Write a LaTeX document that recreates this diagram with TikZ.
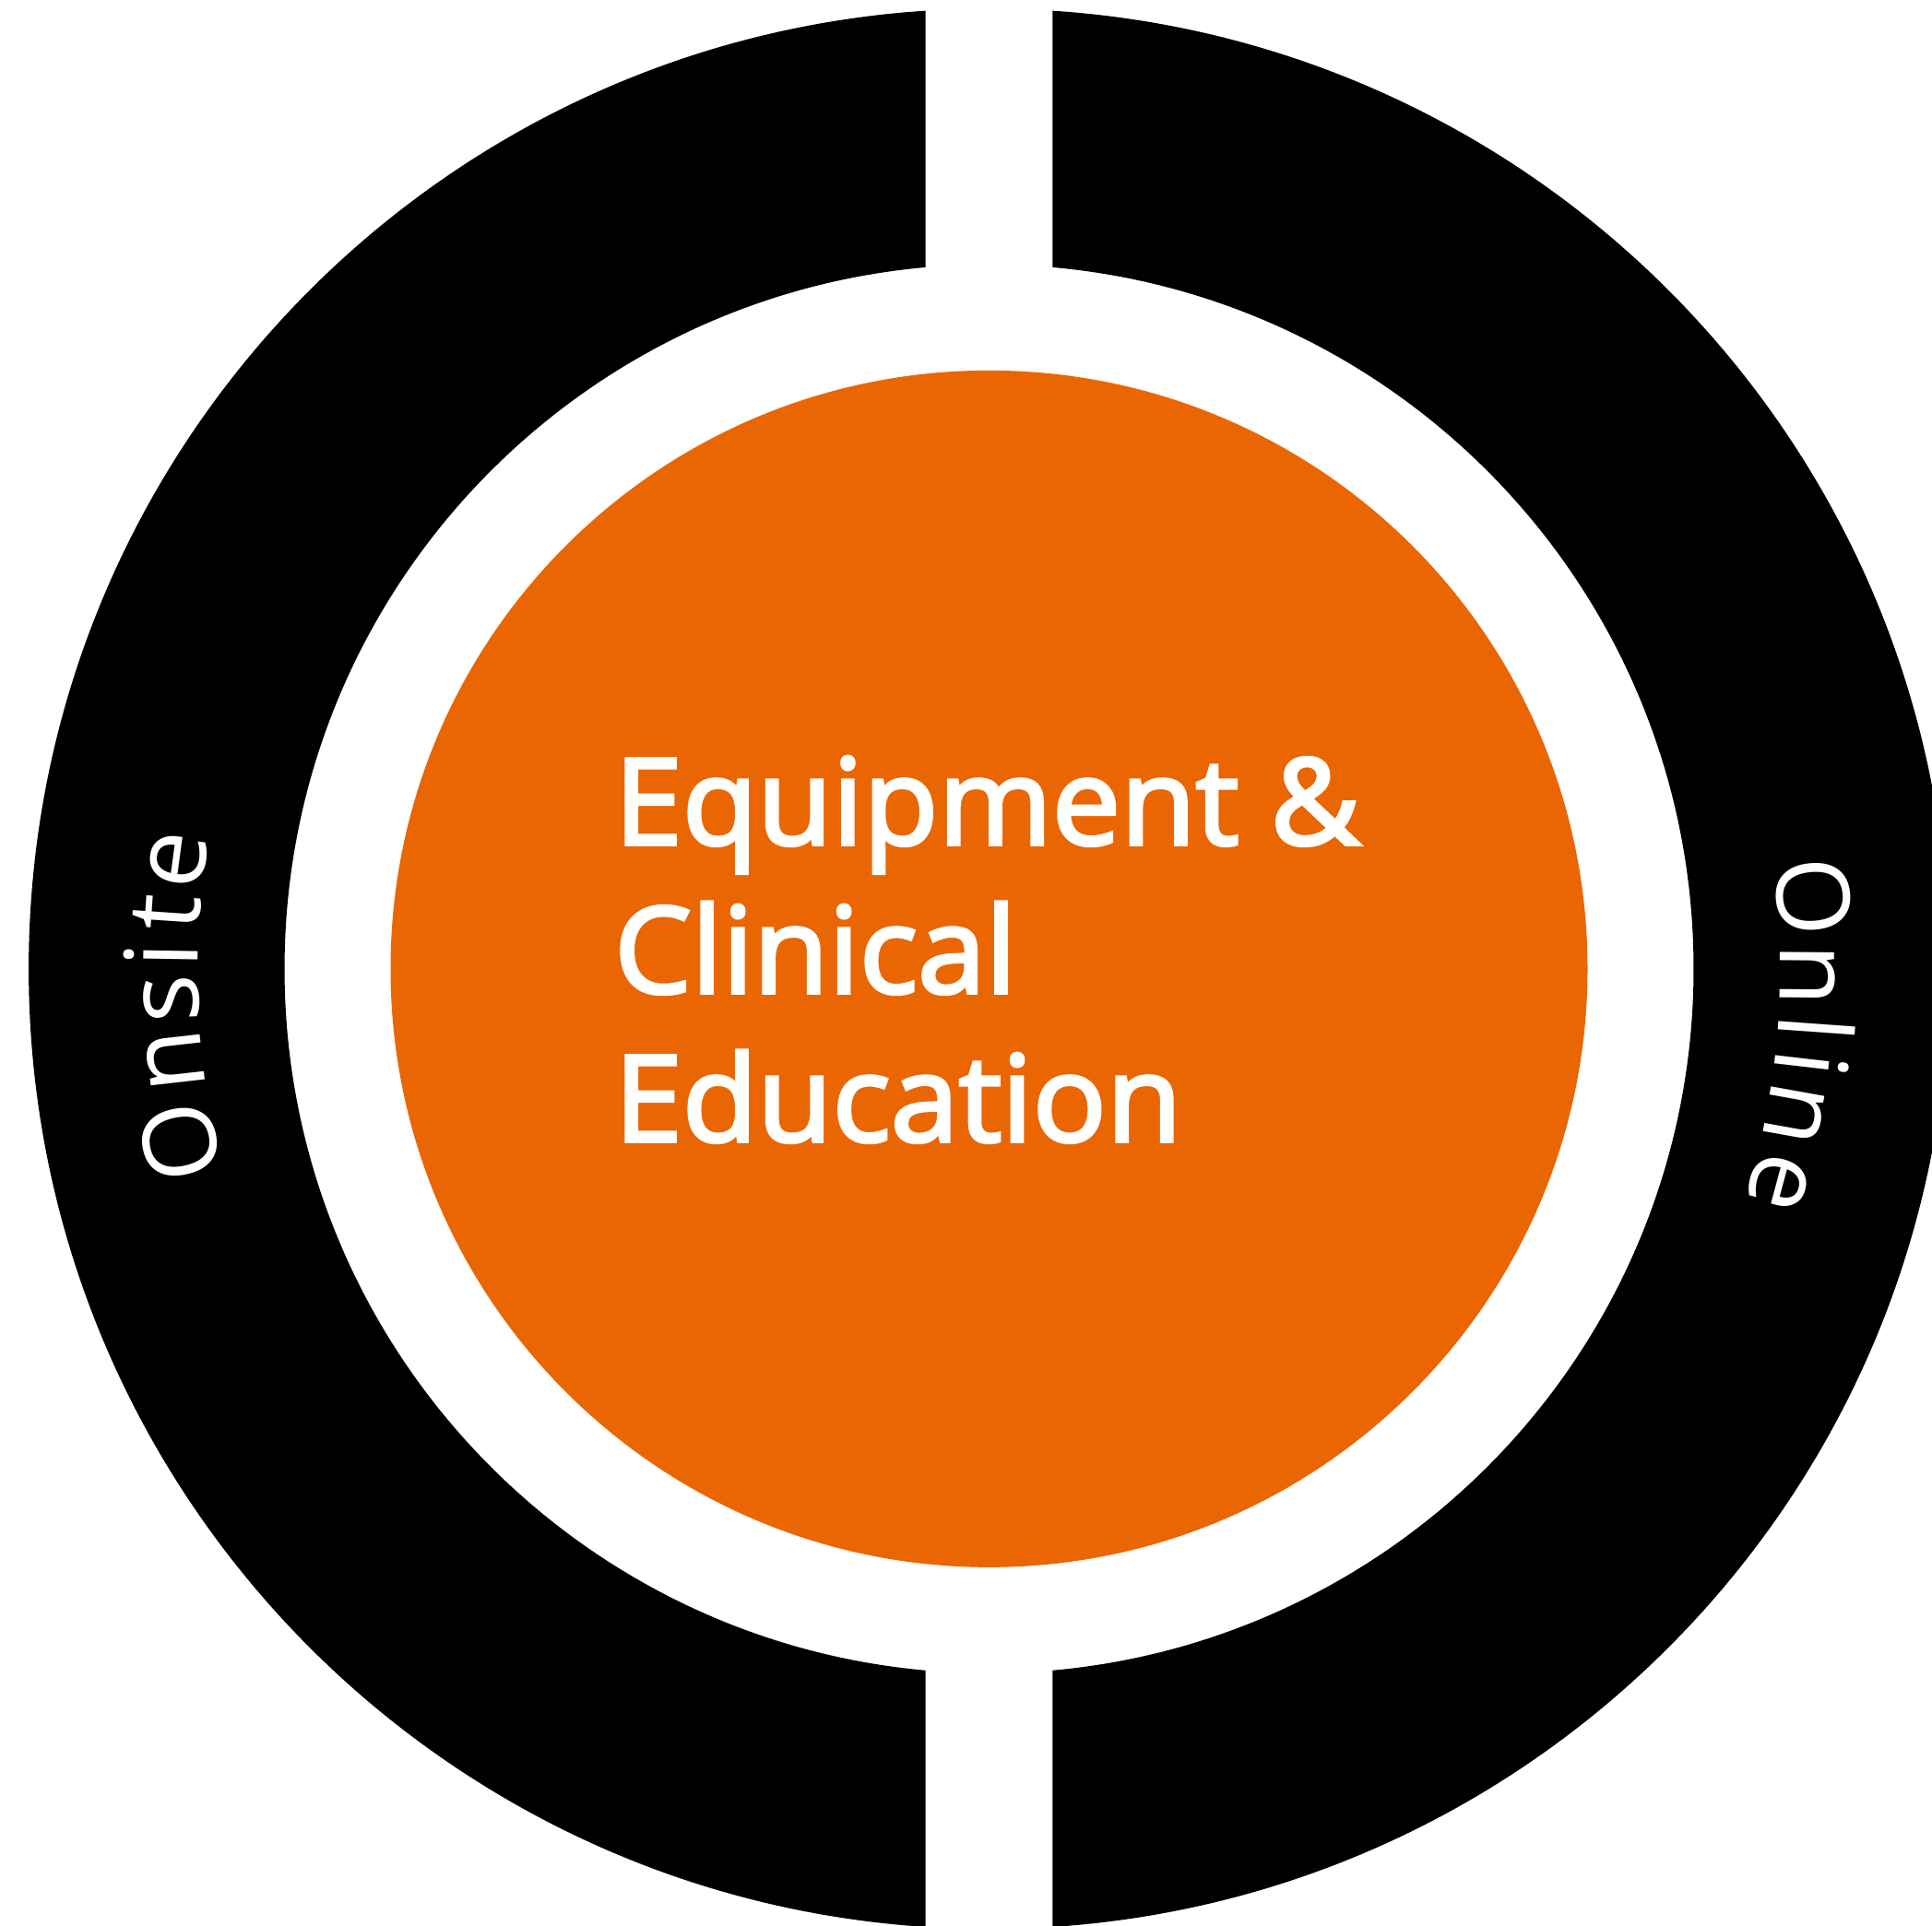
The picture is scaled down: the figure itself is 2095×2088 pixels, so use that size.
\documentclass[tikz,border=0pt]{standalone}
\usepackage{fontspec}
\usetikzlibrary{calc}
\newfontfamily\semib{Open Sans}[FakeBold=3,FakeStretch=1.02]
\newfontfamily\labfont{Open Sans}
\definecolor{ringblack}{RGB}{0,0,0}
\definecolor{coreorange}{RGB}{234,102,3}
\tikzset{
  ring/.style={fill=ringblack, even odd rule},
  core/.style={fill=coreorange},
  titletext/.style={anchor=base west, inner sep=0pt, text=white, font=\semib\fontsize{130}{130}\selectfont},
  lab/.style={anchor=base, inner sep=0pt, text=white, font=\labfont\fontsize{110}{110}\selectfont},
}
\newcommand{\ringletter}[3]{% name, angle, letter
  \node[lab, rotate=#2-90] (#1) at ($(C)+(#2:858pt)$) {#3};}
\begin{document}
\begin{tikzpicture}[x=1pt,y=1pt]
\useasboundingbox (0,0) rectangle (2095,2088);
\clip (0,0) rectangle (2095,2088);
\coordinate (C) at (1072.5,1037.15);
% left half ring (Onsite)
\begin{scope}
  \clip (0,0) rectangle (1003.7,2088);
  \fill[ring] (C) circle[radius=1041.4pt] (C) circle[radius=763.96pt];
\end{scope}
% right half ring (Online)
\begin{scope}
  \clip (1141.3,0) rectangle (2095,2088);
  \fill[ring] (C) circle[radius=1041.4pt] (C) circle[radius=763.96pt];
\end{scope}
% centre disc
\fill[core] (C) circle[radius=649pt];
\node[titletext] (eq) at (666,1172) {Equipment \&};
\node[titletext] (cl) at (666,1011) {Clinical};
\node[titletext] (ed) at (666,850) {Education};
% Onsite (reads upward on the left)
\ringletter{os1}{192.08}{O}
\ringletter{os2}{186.44}{n}
\ringletter{os3}{182.09}{s}
\ringletter{os4}{179.07}{i}
\ringletter{os5}{176.10}{t}
\ringletter{os6}{172.40}{e}
% Online (reads downward on the right)
\ringletter{ol1}{5.01}{O}
\ringletter{ol2}{-0.43}{n}
\ringletter{ol3}{-4.12}{l}
\ringletter{ol4}{-6.60}{i}
\ringletter{ol5}{-10.19}{n}
\ringletter{ol6}{-15.09}{e}
\end{tikzpicture}
\end{document}
